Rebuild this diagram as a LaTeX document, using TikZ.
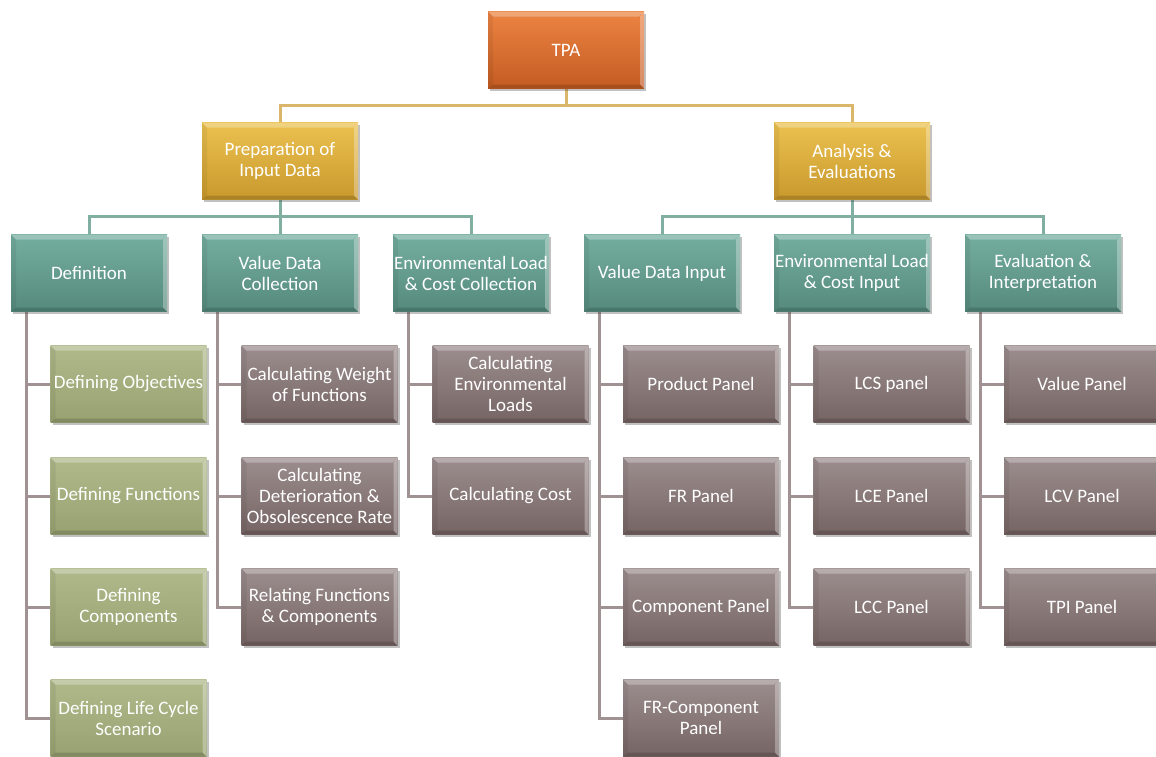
\documentclass[tikz,border=0pt]{standalone}
\usepackage{fontspec}
\setmainfont{Carlito}
\usetikzlibrary{shadows,backgrounds}

% box fills, top and bottom of each vertical gradient
\definecolor{orgT}{HTML}{EC8443}
\definecolor{orgB}{HTML}{C45B22}
\definecolor{gldT}{HTML}{EBC150}
\definecolor{gldB}{HTML}{C9992D}
\definecolor{tealT}{HTML}{74AE9F}
\definecolor{tealB}{HTML}{558A7C}
\definecolor{oliT}{HTML}{B0B98B}
\definecolor{oliB}{HTML}{98A271}
\definecolor{mauT}{HTML}{9C8E8E}
\definecolor{mauB}{HTML}{766464}
% connector colours
\definecolor{lnGold}{HTML}{D9B66A}
\definecolor{lnTeal}{HTML}{80AEA1}
\definecolor{lnMau}{HTML}{A09292}

\tikzset{
  bevelled/.style={path picture={
    \coordinate (bnw) at (path picture bounding box.north west);
    \coordinate (bne) at (path picture bounding box.north east);
    \coordinate (bsw) at (path picture bounding box.south west);
    \coordinate (bse) at (path picture bounding box.south east);
    \fill[white,opacity=.28] (bnw) -- (bne) -- ([shift={(-5pt,-5pt)}]bne) -- ([shift={(5pt,-5pt)}]bnw) -- cycle;
    \fill[white,opacity=.30] (bne) -- (bse) -- ([shift={(-4pt,4pt)}]bse) -- ([shift={(-4pt,-5pt)}]bne) -- cycle;
    \fill[black,opacity=.15] (bsw) -- (bse) -- ([shift={(-4pt,4pt)}]bse) -- ([shift={(5pt,4pt)}]bsw) -- cycle;
    \fill[black,opacity=.06] (bnw) -- (bsw) -- ([shift={(5pt,4pt)}]bsw) -- ([shift={(5pt,-5pt)}]bnw) -- cycle;
  }},
  box/.style={rectangle, minimum width=156pt, minimum height=77pt, inner sep=0pt,
    align=center, text=white, font=\fontsize{19}{21}\selectfont,
    drop shadow={shadow xshift=2pt, shadow yshift=-2.5pt, opacity=.35, fill=black!70},
    bevelled},
  topbox/.style={box, top color=orgT, bottom color=orgB},
  gbox/.style={box, top color=gldT, bottom color=gldB},
  tbox/.style={box, top color=tealT, bottom color=tealB},
  obox/.style={box, top color=oliT, bottom color=oliB},
  mbox/.style={box, top color=mauT, bottom color=mauB},
  lk/.style={line width=3pt},
  lkA/.style={lk, draw=lnGold},
  lkB/.style={lk, draw=lnTeal},
  lkC/.style={lk, draw=lnMau},
}

\begin{document}
\begin{tikzpicture}[x=1pt,y=-1pt]
\useasboundingbox (0,0) rectangle (1156,756);
\clip (0,0) rectangle (1156,756);

% root and first level
\node[topbox] (tpa) at (566,50) {TPA};
\node[gbox] (prep) at (280,161) {Preparation of\\Input Data};
\node[gbox] (anal) at (852,161) {Analysis \&\\Evaluations};

% second level
\node[tbox] (def) at (89,273) {Definition};
\node[tbox] (vdc) at (280,273) {Value Data\\Collection};
\node[tbox] (elc) at (471,273) {Environmental Load\\\& Cost Collection};
\node[tbox] (vdi) at (662,273) {Value Data Input};
\node[tbox] (eli) at (852,273) {Environmental Load\\\& Cost Input};
\node[tbox] (evi) at (1043,273) {Evaluation \&\\Interpretation};

% third level: definition
\node[obox] (d1) at (128.5,384) {Defining Objectives};
\node[obox] (d2) at (128.5,496) {Defining Functions};
\node[obox] (d3) at (128.5,607) {Defining\\Components};
\node[obox] (d4) at (128.5,718) {Defining Life Cycle\\Scenario};

% third level: value data collection
\node[mbox] (v1) at (319.5,384) {Calculating Weight\\of Functions};
\node[mbox] (v2) at (319.5,496) {Calculating\\Deterioration \&\\Obsolescence Rate};
\node[mbox] (v3) at (319.5,607) {Relating Functions\\\& Components};

% third level: environmental load & cost collection
\node[mbox] (e1) at (510.5,384) {Calculating\\Environmental\\Loads};
\node[mbox] (e2) at (510.5,496) {Calculating Cost};

% third level: value data input
\node[mbox] (i1) at (701,384) {Product Panel};
\node[mbox] (i2) at (701,496) {FR Panel};
\node[mbox] (i3) at (701,607) {Component Panel};
\node[mbox] (i4) at (701,718) {FR-Component\\Panel};

% third level: environmental load & cost input
\node[mbox] (l1) at (891.5,384) {LCS panel};
\node[mbox] (l2) at (891.5,496) {LCE Panel};
\node[mbox] (l3) at (891.5,607) {LCC Panel};

% third level: evaluation & interpretation
\node[mbox] (x1) at (1082,384) {Value Panel};
\node[mbox] (x2) at (1082,496) {LCV Panel};
\node[mbox] (x3) at (1082,607) {TPI Panel};

\begin{scope}[on background layer]
  % root to first level
  \foreach \c in {prep,anal}
    \draw[lkA] (tpa.south) -- ++(0,17) -| (\c.north);
  % first to second level
  \foreach \c in {def,vdc,elc}
    \draw[lkB] (prep.south) -- ++(0,17) -| (\c.north);
  \foreach \c in {vdi,eli,evi}
    \draw[lkB] (anal.south) -- ++(0,17) -| (\c.north);
  % second to third level
  \foreach \c in {d1,d2,d3,d4}
    \draw[lkC] ([xshift=16pt]def.south west) |- (\c.west);
  \foreach \c in {v1,v2,v3}
    \draw[lkC] ([xshift=16pt]vdc.south west) |- (\c.west);
  \foreach \c in {e1,e2}
    \draw[lkC] ([xshift=16pt]elc.south west) |- (\c.west);
  \foreach \c in {i1,i2,i3,i4}
    \draw[lkC] ([xshift=16pt]vdi.south west) |- (\c.west);
  \foreach \c in {l1,l2,l3}
    \draw[lkC] ([xshift=16pt]eli.south west) |- (\c.west);
  \foreach \c in {x1,x2,x3}
    \draw[lkC] ([xshift=16pt]evi.south west) |- (\c.west);
\end{scope}
\end{tikzpicture}
\end{document}
